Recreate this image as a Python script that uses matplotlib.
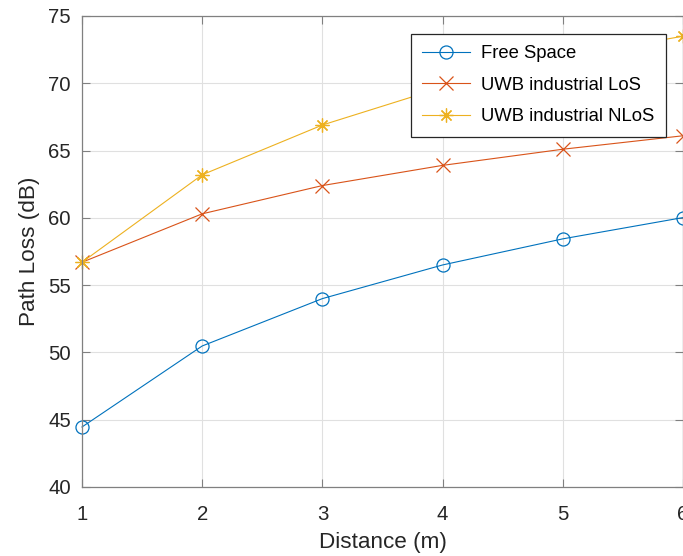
import matplotlib
matplotlib.use("Agg")
import matplotlib.pyplot as plt

plt.rcParams['font.family'] = ['Liberation Sans', 'DejaVu Sans']

distance = [1, 2, 3, 4, 5, 6]
free_space = [44.46, 50.48, 54.0, 56.5, 58.44, 60.02]
uwb_los = [56.7, 60.3, 62.4, 63.9, 65.1, 66.1]
uwb_nlos = [56.7, 63.2, 66.9, 69.7, 71.9, 73.5]

x_ticks = [1, 2, 3, 4, 5, 6]
y_ticks = [40, 45, 50, 55, 60, 65, 70, 75]

W, H = 683, 556
fig = plt.figure(figsize=(W / 100, H / 100), dpi=100)
ax = fig.add_axes([82 / W, 69 / H, 601 / W, 471 / H])

asterisk = (8, 2, 0)
ax.plot(distance, free_space, color='#0072BD', lw=0.8, marker='o', ms=9.4,
        mfc='none', mew=0.9, label='Free Space', clip_on=False)
ax.plot(distance, uwb_los, color='#D95319', lw=0.8, marker='x', ms=9.4,
        mew=0.9, label='UWB industrial LoS', clip_on=False)
ax.plot(distance, uwb_nlos, color='#EDB120', lw=0.8, marker=asterisk, ms=10,
        mew=0.9, label='UWB industrial NLoS', clip_on=False)

ax.set_xlim(1, 6)
ax.set_ylim(40, 75)
ax.set_xticks(x_ticks)
ax.set_yticks(y_ticks)
ax.grid(True, color='#e0e0e0', lw=0.8)
ax.set_axisbelow(True)
ax.tick_params(direction='in', top=True, right=True, length=6, width=0.8,
               colors='#808080', labelcolor='#262626', labelsize=14.7)
ax.tick_params(axis='x', pad=13)
ax.tick_params(axis='y', pad=8)
for s in ax.spines.values():
    s.set_color('#808080')
    s.set_linewidth(0.9)

ax.set_xlabel('Distance (m)', fontsize=16.2, color='#262626', labelpad=6)
ax.set_ylabel('Path Loss (dB)', fontsize=16.2, color='#262626', labelpad=6)

leg = ax.legend(loc='upper right',
                bbox_to_anchor=((666 - 82) / 601, (487 - 34) / 471),
                fontsize=13.3, frameon=True, fancybox=False, framealpha=1,
                edgecolor='#262626', borderpad=0.62, handlelength=2.6,
                handletextpad=0.6, labelspacing=0.78, borderaxespad=0)
leg.get_frame().set_linewidth(0.9)

fig.savefig('out.png', dpi=100)
